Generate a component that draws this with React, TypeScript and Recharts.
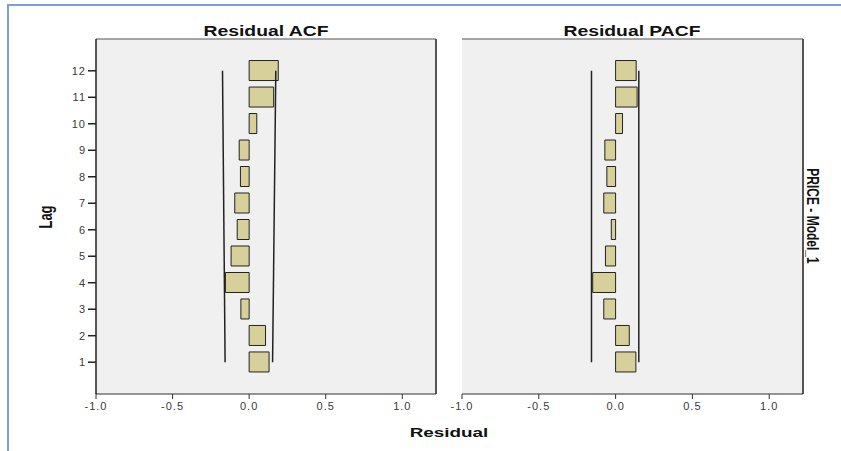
import { ComposedChart, Bar, Line, XAxis, YAxis, CartesianGrid, ReferenceLine } from 'recharts';

// lag numbers, bottom to top
const lags = [1, 2, 3, 4, 5, 6, 7, 8, 9, 10, 11, 12];
const acfValues = [0.13, 0.107, -0.054, -0.155, -0.118, -0.078, -0.094, -0.057, -0.065, 0.05, 0.16, 0.19];
const pacfValues = [0.132, 0.089, -0.077, -0.149, -0.066, -0.028, -0.077, -0.057, -0.07, 0.045, 0.14, 0.134];

// confidence limits, drawn from lag 1 to lag 12
const boundLags = [1, 12];
const acfUpper = [0.153, 0.174];
const acfLower = [-0.157, -0.174];
const pacfUpper = [0.151, 0.151];
const pacfLower = [-0.157, -0.157];

const xTicks = [-1, -0.5, 0, 0.5, 1];

const FONT = '"Liberation Sans", Arial, sans-serif';
const BAR_FILL = '#d8d09b';

const acfData = lags.map((lag, i) => ({ lag, value: acfValues[i] }));
const pacfData = lags.map((lag, i) => ({ lag, value: pacfValues[i] }));
const acfBounds = boundLags.map((lag, i) => ({ lag, upper: acfUpper[i], lower: acfLower[i] }));
const pacfBounds = boundLags.map((lag, i) => ({ lag, upper: pacfUpper[i], lower: pacfLower[i] }));

interface PanelProps {
  data: { lag: number; value: number }[];
  bounds: { lag: number; upper: number; lower: number }[];
  width: number;
  left: number;
  marginLeft: number;
  marginRight: number;
  yAxisWidth: number;
  showLagTicks: boolean;
}

const tickStyle = { fontSize: 11, fill: '#3a3a3a', fontFamily: FONT, letterSpacing: 1 };

const Panel = ({ data, bounds, width, left, marginLeft, marginRight, yAxisWidth, showLagTicks }: PanelProps) => (
  <div style={{ position: 'absolute', left, top: 0 }}>
    <ComposedChart
      width={width}
      height={451}
      data={data}
      layout="vertical"
      margin={{ top: 39, right: marginRight, bottom: 27, left: marginLeft }}
    >
      <CartesianGrid horizontal={false} vertical={false} fill="#f0f0f0" />
      <XAxis
        type="number"
        domain={[-1, 1.22]}
        ticks={xTicks}
        allowDataOverflow
        height={30}
        tickFormatter={(v: number) => v.toFixed(1)}
        stroke="#333"
        tickSize={5}
        tickMargin={3}
        tick={tickStyle}
      />
      <YAxis
        type="number"
        dataKey="lag"
        domain={[-0.2, 13.2]}
        ticks={lags}
        reversed
        allowDataOverflow
        width={yAxisWidth}
        stroke="#222"
        strokeWidth={1.5}
        tickLine={showLagTicks}
        tickSize={8}
        tick={showLagTicks ? tickStyle : false}
      />
      <ReferenceLine y={13.2} stroke="#8a8a8a" strokeWidth={1.5} />
      <ReferenceLine x={1.22} stroke="#555" strokeWidth={2} />
      <Bar dataKey="value" barSize={20} fill={BAR_FILL} stroke="#222" strokeWidth={1} isAnimationActive={false} />
      <Line data={bounds} dataKey="upper" stroke="#222" strokeWidth={1.5} dot={false} isAnimationActive={false} />
      <Line data={bounds} dataKey="lower" stroke="#222" strokeWidth={1.5} dot={false} isAnimationActive={false} />
    </ComposedChart>
  </div>
);

const Label = ({ x, y, text, size, transform }: { x: number; y: number; text: string; size: number; transform: string }) => (
  <div
    style={{
      position: 'absolute',
      left: x,
      top: y,
      transform: `translate(-50%, -50%) ${transform}`,
      fontFamily: FONT,
      fontWeight: 'bold',
      fontSize: size,
      lineHeight: 1,
      color: '#111',
      whiteSpace: 'nowrap',
    }}
  >
    {text}
  </div>
);

export default function App() {
  return (
    <div style={{ position: 'absolute', left: 0, top: 0, width: 841, height: 451, background: '#fff', overflow: 'hidden' }}>
      <div
        style={{
          position: 'absolute',
          left: 7,
          top: 4,
          width: 900,
          height: 500,
          borderTop: '2px solid #7ba1da',
          borderLeft: '2px solid #7ba1da',
        }}
      />
      <Panel data={acfData} bounds={acfBounds} width={450} left={0} marginLeft={0} marginRight={14} yAxisWidth={96} showLagTicks />
      <Panel data={pacfData} bounds={pacfBounds} width={391} left={450} marginLeft={12} marginRight={38} yAxisWidth={0} showLagTicks={false} />
      <Label x={266} y={31} text="Residual ACF" size={14} transform="scaleX(1.38)" />
      <Label x={632} y={31} text="Residual PACF" size={14} transform="scaleX(1.38)" />
      <Label x={449} y={432} text="Residual" size={13} transform="scaleX(1.45)" />
      <Label x={46} y={217} text="Lag" size={13} transform="rotate(-90deg) scaleY(1.35)" />
      <Label x={812} y={216} text="PRICE - Model_1" size={12} transform="rotate(90deg) scaleY(1.3)" />
    </div>
  );
}
